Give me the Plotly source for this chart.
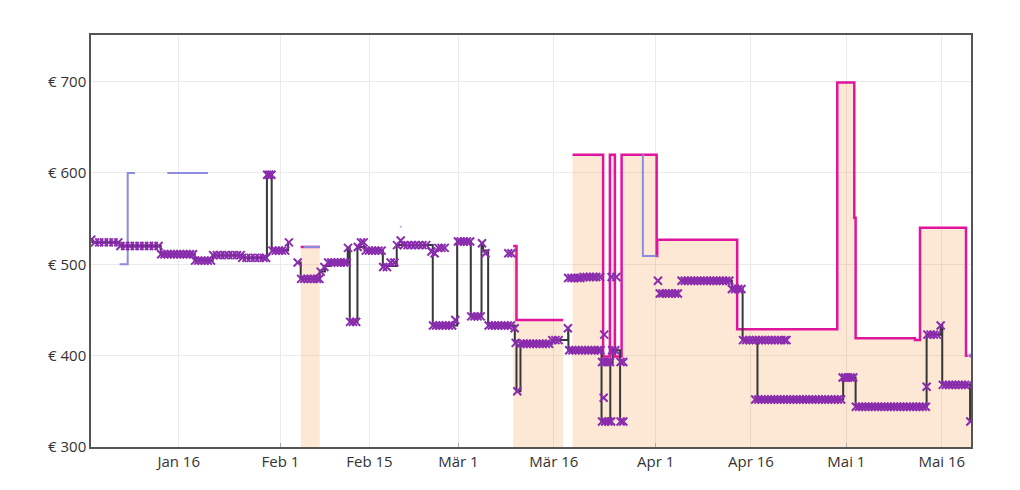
import plotly.graph_objects as go

YEAR = "2023"

# ---- axis ticks ----
x_tick_dates = ["01-16", "02-01", "02-15", "03-01", "03-16", "04-01", "04-16", "05-01", "05-16"]
x_tick_labels = ["Jan 16", "Feb 1", "Feb 15", "Mär 1", "Mär 16", "Apr 1", "Apr 16", "Mai 1", "Mai 16"]
month_starts = ["02-01", "03-01", "04-01", "05-01"]
y_tick_vals = [300, 400, 500, 600, 700]
y_tick_labels = ["€ 300", "€ 400", "€ 500", "€ 600", "€ 700"]

# ---- step series (date, price); None = gap ----
used_series = [
    ("01-02 05:00", 527), ("01-02 10:00", 524), ("01-06 17:00", 520), ("01-13 04:00", 511),
    ("01-18 12:30", 504), ("01-21 08:30", 510), ("01-25 22:00", 507), ("01-29 21:00", 598),
    ("01-30 15:00", 515), ("02-02 05:00", 524), ("02-02 12:00", 524), ("02-02 13:00", None),
    ("02-03 17:00", 502), ("02-04 04:30", 484), ("02-07 04:20", 492), ("02-08 00:00", 498),
    ("02-08 18:00", 502), ("02-11 14:00", 518), ("02-11 21:40", 437), ("02-13 02:40", 519),
    ("02-14 06:00", 515), ("02-17 02:30", 498), ("02-19 07:00", 521), ("02-24 23:00", 433),
    ("02-28 19:00", 525), ("03-02 22:30", 443), ("03-04 15:00", 523), ("03-04 21:00", 515),
    ("03-05 16:00", 433), ("03-09 20:40", 414), ("03-10 03:00", 361), ("03-10 18:00", 413),
    ("03-15 18:00", 417), ("03-18 06:00", 430), ("03-18 07:00", 406), ("03-23 12:00", 328),
    ("03-24 21:00", 392), ("03-25 06:00", 406), ("03-26 10:00", 328), ("03-26 20:00", 328),
    ("03-27 00:00", None),
    ("04-05 02:00", 482), ("04-13 00:00", 473), ("04-14 16:30", 417), ("04-17 00:30", 352),
    ("04-30 12:00", 376), ("05-02 11:00", 344), ("05-13 15:00", 423), ("05-15 20:00", 433),
    ("05-16 02:00", 368), ("05-20 11:00", 328), ("05-20 14:00", 328),
]

new_series = [
    ("01-06 17:00", 500), ("01-07 23:30", 600), ("01-09 03:00", 600), ("01-09 04:00", None),
    ("01-14 05:00", 600), ("01-20 14:40", 600), ("01-20 16:00", None),
    ("02-04 16:00", 519), ("02-07 04:20", 519), ("02-07 06:00", None),
    ("03-29 23:00", 620), ("03-30 00:00", 509), ("04-01 04:00", 509), ("04-01 05:00", None),
]
new_dots = [("02-19 22:00", 541), ("05-20 14:20", 400)]

amazon_series = [
    ("02-04 04:30", 519), ("02-07 04:20", 519), ("02-07 05:00", None),
    ("03-09 14:30", 520), ("03-10 03:00", 439), ("03-17 11:00", 439), ("03-17 12:00", None),
    ("03-18 22:30", 620), ("03-23 18:00", 399), ("03-24 19:30", 620), ("03-25 14:30", 399),
    ("03-26 15:40", 620), ("04-01 04:00", 509), ("04-01 06:00", 527), ("04-13 20:00", 429),
    ("04-29 13:40", 699), ("05-02 06:00", 551), ("05-02 11:00", 419), ("05-11 19:00", 417),
    ("05-12 14:00", 540), ("05-19 19:40", 400), ("05-20 14:30", 400),
]

# ---- individual offers (price, observation times "MM-DD HH") ----
deal_obs = [
    (527, "01-02 06"),
    (524, "01-02 20 01-03 12 01-04 06 01-05 00 01-05 18 01-06 12"),
    (520, "01-06 20 01-07 14 01-08 08 01-09 02 01-09 20 01-10 14 01-11 08 01-12 02 01-12 20"),
    (511, "01-13 06 01-13 18 01-14 06 01-14 18 01-15 06 01-15 18 01-16 06 01-16 18 01-17 06 01-17 18 01-18 06"),
    (504, "01-18 14 01-19 02 01-19 14 01-20 02 01-20 14 01-21 02"),
    (510, "01-21 10 01-22 00 01-22 14 01-23 06 01-23 20 01-24 12 01-25 04 01-25 18"),
    (507, "01-26 00 01-26 16 01-27 08 01-28 00 01-28 16 01-29 08 01-29 18"),
    (598, "01-29 22 01-30 06 01-30 14"),
    (515, "01-30 18 01-31 06 01-31 18 02-01 06 02-01 18"),
    (524, "02-02 08"),
    (502, "02-03 17"),
    (484, "02-04 06 02-04 18 02-05 06 02-05 18 02-06 06 02-06 18 02-07 03"),
    (492, "02-07 08"),
    (497, "02-07 22"),
    (502, "02-08 12 02-09 00 02-09 12 02-10 00 02-10 12 02-11 00 02-11 10"),
    (518, "02-11 15"),
    (437, "02-11 23 02-12 10 02-12 22"),
    (519, "02-13 04"),
    (524, "02-13 16 02-14 02"),
    (515, "02-14 10 02-14 22 02-15 10 02-15 22 02-16 10 02-16 22"),
    (497, "02-17 04 02-17 18"),
    (502, "02-18 08 02-18 22"),
    (521, "02-19 08 02-20 10 02-21 00 02-21 14 02-22 04 02-22 18 02-23 08 02-23 22"),
    (526, "02-19 22"),
    (514, "02-24 18"),
    (512, "02-25 06"),
    (518, "02-25 20 02-26 08 02-26 20"),
    (433, "02-25 00 02-25 12 02-26 00 02-26 12 02-27 00 02-27 12 02-28 00"),
    (439, "02-28 12"),
    (525, "02-28 22 03-01 08 03-01 20 03-02 08 03-02 20"),
    (443, "03-03 00 03-03 12 03-04 00 03-04 12"),
    (523, "03-04 17"),
    (512, "03-05 06"),
    (433, "03-05 18 03-06 06 03-06 18 03-07 06 03-07 18 03-08 06 03-08 18 03-09 06"),
    (512, "03-08 20 03-09 08"),
    (430, "03-09 20"),
    (414, "03-10 00"),
    (361, "03-10 06"),
    (413, "03-10 18 03-11 06 03-11 18 03-12 06 03-12 18 03-13 06 03-13 18 03-14 06 03-14 18 03-15 06"),
    (417, "03-15 18 03-16 06 03-16 18"),
    (430, "03-18 05"),
    (406, "03-18 10 03-18 22 03-19 10 03-19 22 03-20 10 03-20 22 03-21 10 03-21 22 03-22 10 03-22 22 03-23 08"),
    (485, "03-18 06 03-18 18 03-19 06 03-19 18 03-20 04"),
    (486, "03-20 16 03-21 04 03-21 16 03-22 04 03-22 16 03-23 06 03-25 02 03-25 20"),
    (393, "03-23 14 03-24 00 03-24 10 03-24 20 03-26 12 03-26 22"),
    (328, "03-23 14 03-24 02 03-24 14 03-25 00 03-26 12 03-26 22"),
    (354, "03-23 20"),
    (423, "03-23 22"),
    (406, "03-25 04 03-25 16"),
    (482, "04-01 09"),
    (468, "04-01 16 04-02 02 04-02 14 04-03 02 04-03 14 04-04 02 04-04 12"),
    (482, "04-05 02 04-05 14 04-06 02 04-06 14 04-07 02 04-07 14 04-08 02 04-08 14 04-09 02 04-09 14 04-10 02 04-10 14 04-11 02 04-11 14 04-12 02 04-12 14"),
    (473, "04-13 00 04-13 12 04-14 00 04-14 12"),
    (417, "04-14 18 04-15 06 04-15 18 04-16 06 04-16 18 04-17 06 04-17 18 04-18 06 04-18 18 04-19 06 04-19 18 04-20 06 04-20 18 04-21 06 04-21 14"),
    (352, "04-16 16 04-17 04 04-17 16 04-18 04 04-18 16 04-19 04 04-19 16 04-20 04 04-20 16 04-21 04 04-21 16 04-22 04 04-22 16 04-23 04 04-23 16 04-24 04 04-24 16 04-25 04 04-25 16 04-26 04 04-26 16 04-27 04 04-27 16 04-28 04 04-28 16 04-29 04 04-29 16 04-30 04"),
    (376, "04-30 10 04-30 20 05-01 06 05-01 16 05-02 02"),
    (344, "05-02 12 05-03 00 05-03 12 05-04 00 05-04 12 05-05 00 05-05 12 05-06 00 05-06 12 05-07 00 05-07 12 05-08 00 05-08 12 05-09 00 05-09 12 05-10 00 05-10 12 05-11 00 05-11 12 05-12 00 05-12 12 05-13 00 05-13 12"),
    (366, "05-13 15"),
    (423, "05-13 18 05-14 06 05-14 18 05-15 06"),
    (433, "05-15 20"),
    (368, "05-16 04 05-16 16 05-17 04 05-17 16 05-18 04 05-18 16 05-19 04 05-19 16 05-20 04"),
    (328, "05-20 12"),
]


def full(md):
    return f"{YEAR}-{md}"


def split(series):
    return [full(s[0]) for s in series], [s[1] for s in series]


def segments(series):
    segs, cur = [], []
    for d, v in series:
        if v is None:
            if cur:
                segs.append(cur)
            cur = []
        else:
            cur.append((d, v))
    if cur:
        segs.append(cur)
    return segs


deal_x, deal_y = [], []
for price, times in deal_obs:
    toks = times.split()
    for i in range(0, len(toks), 2):
        deal_x.append(full(f"{toks[i]} {toks[i+1]}:00"))
        deal_y.append(price)

amz_x, amz_y = split(amazon_series)
used_x, used_y = split(used_series)
new_x, new_y = split(new_series)
dot_x, dot_y = split(new_dots)

fig = go.Figure()
for seg in segments(amazon_series):
    sx, sy = split(seg)
    fig.add_trace(go.Scatter(x=sx, y=sy, mode="lines", line=dict(width=0, shape="hv"),
                             fill="tozeroy", fillcolor="rgba(245,130,30,0.19)",
                             hoverinfo="skip"))
fig.add_trace(go.Scatter(x=amz_x, y=amz_y, mode="lines",
                         line=dict(color="#e0159e", width=2.5, shape="hv"), connectgaps=False))
fig.add_trace(go.Scatter(x=new_x, y=new_y, mode="lines",
                         line=dict(color="#8c8ce0", width=2, shape="hv"), connectgaps=False))
fig.add_trace(go.Scatter(x=dot_x, y=dot_y, mode="markers",
                         marker=dict(color="#8c8ce0", size=[3, 6])))
fig.add_trace(go.Scatter(x=used_x, y=used_y, mode="lines",
                         line=dict(color="#383838", width=2, shape="hv"), connectgaps=False))
fig.add_trace(go.Scatter(x=deal_x, y=deal_y, mode="markers",
                         marker=dict(symbol="x-thin", size=8,
                                     line=dict(color="#8a2cae", width=2))))

fig.update_layout(
    width=1020, height=490,
    margin=dict(l=91, r=49, t=35, b=43),
    paper_bgcolor="white", plot_bgcolor="white",
    showlegend=False,
    font=dict(family="Open Sans, sans-serif", size=15, color="#333333"),
)
fig.update_xaxes(
    type="date",
    range=[full("01-02 05:00"), full("05-20 14:30")],
    tickmode="array", tickvals=[full(d) for d in x_tick_dates], ticktext=x_tick_labels,
    showgrid=True, gridcolor="#ebebeb", gridwidth=1,
    showline=True, linecolor="#555555", linewidth=1.5, mirror=True,
    ticks="", zeroline=False,
    minor=dict(tickmode="array", tickvals=[full(d) for d in month_starts],
               ticks="inside", ticklen=4, tickcolor="#aaaaaa", showgrid=False),
)
fig.update_yaxes(
    range=[300, 751],
    tickmode="array", tickvals=y_tick_vals, ticktext=y_tick_labels,
    showgrid=True, gridcolor="#ebebeb", gridwidth=1,
    showline=True, linecolor="#555555", linewidth=1.5, mirror=True,
    ticks="", zeroline=False,
)

fig.write_html("out.html")
